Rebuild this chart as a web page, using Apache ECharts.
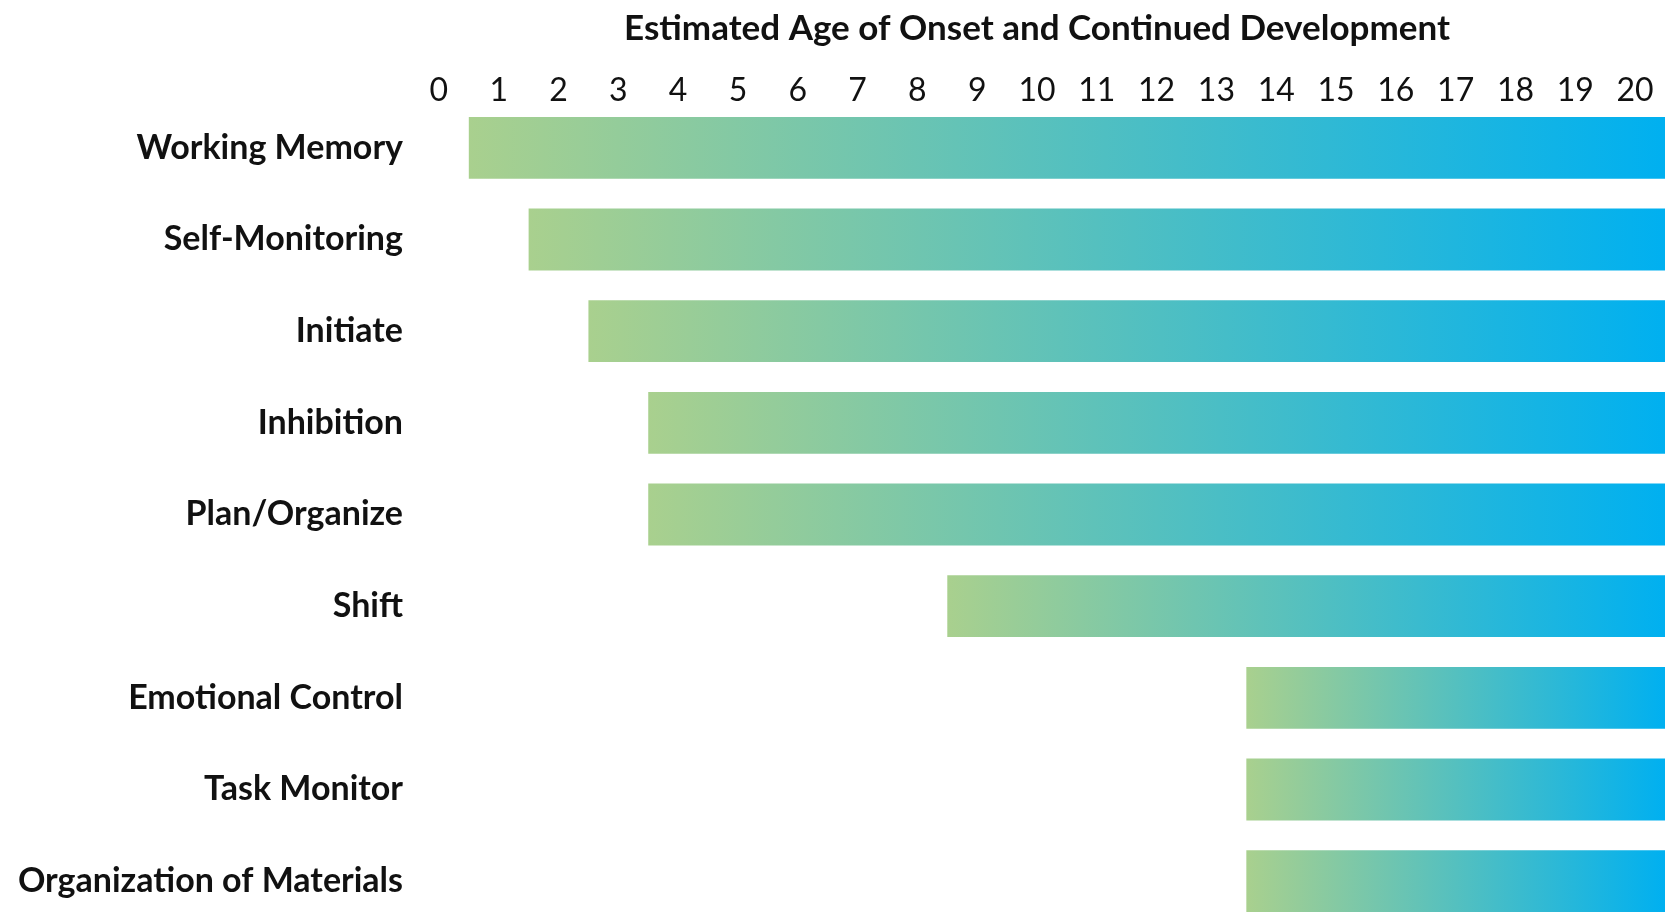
<!DOCTYPE html>
<html>
<head>
<meta charset="utf-8">
<script src="https://cdn.jsdelivr.net/npm/echarts@6/dist/echarts.min.js"></script>
<style>
  html, body { margin: 0; padding: 0; background: #fff; }
  #chart { width: 1672px; height: 912px; }
</style>
</head>
<body>
<div id="chart"></div>
<script>
// skills, top to bottom
var skills = ['Working Memory', 'Self-Monitoring', 'Initiate', 'Inhibition', 'Plan/Organize',
  'Shift', 'Emotional Control', 'Task Monitor', 'Organization of Materials'];
// estimated age of onset (bar begins at this age's column)
var onsetAge = [1, 2, 3, 4, 4, 9, 14, 14, 14];
// development continues through this age
var lastAge = 20;
// tick labels along the top
var ageTicks = [0, 1, 2, 3, 4, 5, 6, 7, 8, 9, 10, 11, 12, 13, 14, 15, 16, 17, 18, 19, 20];

// each age occupies one unit-wide column centred on its label
var startPos = onsetAge.map(function (a) { return a - 0.5; });
var spanLen = onsetAge.map(function (a) { return (lastAge + 0.5) - (a - 0.5); });

var chart = echarts.init(document.getElementById('chart'));

var option = {
  backgroundColor: '#fff',
  animation: false,
  textStyle: { fontFamily: 'Lato' },
  grid: {
    left: 409,
    top: 102,
    width: 1256,
    height: 825,
    outerBoundsMode: 'none'
  },
  xAxis: {
    type: 'value',
    position: 'top',
    min: ageTicks[0] - 0.5,
    max: ageTicks[ageTicks.length - 1] + 0.5,
    name: 'Estimated Age of Onset and Continued Development',
    nameLocation: 'middle',
    nameGap: 56,
    nameMoveOverlap: false,
    nameTextStyle: {
      color: '#111',
      fontFamily: 'Lato',
      fontWeight: 'bold',
      fontSize: 35
    },
    axisLabel: {
      customValues: ageTicks,
      color: '#111',
      fontFamily: 'Lato',
      fontSize: 32,
      margin: -5
    },
    axisTick: { show: false },
    axisLine: { show: false },
    splitLine: { show: false }
  },
  yAxis: {
    type: 'category',
    inverse: true,
    data: skills,
    axisLabel: {
      color: '#111',
      fontFamily: 'Lato',
      fontWeight: 'bold',
      fontSize: 34,
      margin: 6
    },
    axisTick: { show: false },
    axisLine: { show: false },
    splitLine: { show: false }
  },
  series: [{
    // invisible offset up to the onset column
    type: 'bar',
    stack: 'age',
    silent: true,
    itemStyle: { color: 'transparent' },
    barCategoryGap: '32.6%',
    data: startPos
  }, {
    type: 'bar',
    stack: 'age',
    itemStyle: {
      color: {
        type: 'linear',
        x: 0,
        y: 0,
        x2: 1,
        y2: 0,
        colorStops: [{
          offset: 0,
          color: '#A9D08E'
        }, {
          offset: 1,
          color: '#00B0F0'
        }],
        global: false
      }
    },
    data: spanLen
  }]
};

chart.setOption(option);
</script>
</body>
</html>
